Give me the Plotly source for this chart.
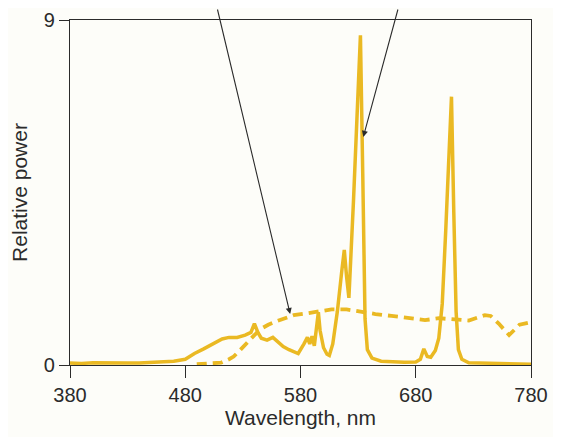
import plotly.graph_objects as go

# Solid curve (lamp spectrum)
solid_wl = [380, 390, 400, 410, 420, 430, 440, 450, 460, 470, 480, 488, 496, 504, 512,
            518, 525, 532, 537, 540, 543, 546, 551, 556, 560, 565, 570, 578, 583, 586,
            588, 590, 592, 594, 595.5, 597, 600, 603, 605, 608, 612, 616, 618, 620, 622,
            626, 629, 632, 634, 636, 638, 642, 650, 660, 670, 680, 684, 687, 690, 693,
            697, 700, 703, 706, 709, 711, 713, 715, 717, 720, 726, 740, 760, 780]
solid_pw = [0.05, 0.04, 0.06, 0.05, 0.04, 0.05, 0.05, 0.06, 0.07, 0.10, 0.15, 0.30, 0.42, 0.55, 0.68,
            0.72, 0.72, 0.78, 0.85, 1.08, 0.85, 0.70, 0.65, 0.72, 0.60, 0.48, 0.40, 0.30, 0.55, 0.72,
            0.55, 0.75, 0.50, 1.00, 1.38, 0.90, 0.45, 0.28, 0.25, 0.55, 1.40, 2.50, 3.00, 2.30, 1.75,
            4.30, 6.50, 8.60, 5.00, 1.20, 0.40, 0.18, 0.10, 0.08, 0.07, 0.08, 0.15, 0.42, 0.22, 0.20,
            0.38, 0.70, 1.60, 3.50, 5.80, 7.00, 4.00, 1.40, 0.40, 0.15, 0.06, 0.05, 0.03, 0.02]

# Dashed curve (reference illuminant)
dash_wl = [490, 500, 511, 518, 522, 528, 534, 540, 546, 552, 560, 566, 574, 586, 596,
           607, 620, 633, 645, 659, 676, 688, 700, 714, 726, 740, 745, 752, 761, 770, 780]
dash_pw = [0.02, 0.04, 0.06, 0.15, 0.22, 0.40, 0.60, 0.78, 0.95, 1.05, 1.15, 1.22, 1.30, 1.35, 1.40,
           1.45, 1.45, 1.38, 1.33, 1.28, 1.22, 1.17, 1.22, 1.20, 1.16, 1.30, 1.28, 1.08, 0.78, 1.05, 1.12]

x_ticks = [380, 480, 580, 680, 780]
y_ticks = [0, 9]

gold = "#EAB923"
ink = "#2b2b2b"
font = "Liberation Sans, Arial, sans-serif"

fig = go.Figure()
fig.add_trace(go.Scatter(x=dash_wl, y=dash_pw, mode="lines",
                         line=dict(color=gold, width=3.8, dash="10px,6px"),
                         hoverinfo="skip", showlegend=False))
fig.add_trace(go.Scatter(x=solid_wl, y=solid_pw, mode="lines",
                         line=dict(color=gold, width=3.5),
                         hoverinfo="skip", showlegend=False))

# Pointer arrows (labels are cropped off above the figure)
fig.add_annotation(x=571, y=1.33, xref="x", yref="y", text="", showarrow=True,
                   ax=-73, ay=-308, arrowhead=2, arrowsize=1.1, arrowwidth=1.1,
                   arrowcolor=ink)
fig.add_annotation(x=634.5, y=5.95, xref="x", yref="y", text="", showarrow=True,
                   ax=35, ay=-131, arrowhead=2, arrowsize=1.1, arrowwidth=1.1,
                   arrowcolor=ink)

fig.update_layout(
    width=553, height=429,
    margin=dict(l=62, r=30, t=12, b=72),
    paper_bgcolor="#fdfdf9", plot_bgcolor="#fdfdf9",
    font=dict(family=font, size=20, color=ink),
    xaxis=dict(range=[380, 780], tickvals=x_ticks, ticks="outside", ticklen=12,
               tickwidth=1.2, tickcolor=ink, showline=True, linecolor=ink, linewidth=1.3,
               mirror=True, showgrid=False, zeroline=False, automargin=False,
               tickfont=dict(size=20, color=ink),
               title=dict(text="Wavelength, nm", font=dict(size=21, color=ink), standoff=3)),
    yaxis=dict(range=[0, 9], tickvals=y_ticks, ticks="outside", ticklen=10,
               tickwidth=1.2, tickcolor=ink, showline=True, linecolor=ink, linewidth=1.3,
               mirror=True, showgrid=False, zeroline=False, automargin=False,
               tickfont=dict(size=20, color=ink),
               title=dict(text="Relative power", font=dict(size=21, color=ink), standoff=10)),
)

fig.write_html("out.html")
